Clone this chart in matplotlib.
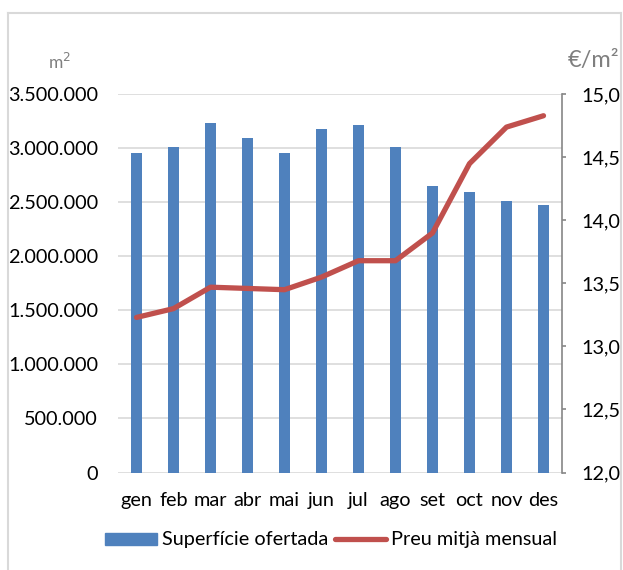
import matplotlib
matplotlib.use("Agg")
import matplotlib.pyplot as plt
from matplotlib.lines import Line2D
from matplotlib.patches import Rectangle
from matplotlib.ticker import FuncFormatter, FixedLocator

plt.rcParams['font.family'] = ['Lato', 'DejaVu Sans']

months = ["gen", "feb", "mar", "abr", "mai", "jun", "jul", "ago", "set", "oct", "nov", "des"]
surface = [2957000, 3012000, 3234000, 3096000, 2954000, 3182000,
           3216000, 3012000, 2652000, 2596000, 2513000, 2479000]
price = [13.23, 13.30, 13.47, 13.46, 13.45, 13.55,
         13.68, 13.68, 13.90, 14.45, 14.74, 14.83]

bar_label = "Superfície ofertada"
line_label = "Preu mitjà mensual"

BLUE = "#4f81bd"
RED = "#c0504d"
GRID = "#d9d9d9"
TXT = "#000000"
UNIT = "#7f7f7f"
FS = 14.3

W, H = 623, 570
fig = plt.figure(figsize=(W / 100, H / 100), dpi=100)

x0, x1, y_top, y_bot = 118, 562, 94.3, 472.5
ax = fig.add_axes([x0 / W, 1 - y_bot / H, (x1 - x0) / W, (y_bot - y_top) / H])
ax2 = ax.twinx()

xs = list(range(len(months)))
ax.bar(xs, surface, width=0.3, color=BLUE, zorder=2)
ax.set_xlim(-0.5, len(months) - 0.5)
ax.set_ylim(0, 3500000)
ax.yaxis.set_major_locator(FixedLocator([i * 500000 for i in range(8)]))
ax.yaxis.set_major_formatter(FuncFormatter(lambda v, p: f"{int(v):,}".replace(",", ".")))
ax.grid(axis='y', color=GRID, lw=1.2, zorder=0)
ax.set_axisbelow(True)
for s in ax.spines.values():
    s.set_visible(False)
ax.tick_params(axis='y', length=0, pad=14.4, labelsize=FS, labelcolor=TXT)
ax.set_xticks(xs)
ax.set_xticklabels(months)
ax.tick_params(axis='x', length=0, pad=14, labelsize=FS, labelcolor=TXT)

ax2.plot(xs, price, color=RED, lw=3.8, solid_capstyle='round', solid_joinstyle='round', zorder=3)
ax2.set_ylim(12.0, 15.0)
ax2.yaxis.set_major_locator(FixedLocator([12.0, 12.5, 13.0, 13.5, 14.0, 14.5, 15.0]))
ax2.yaxis.set_major_formatter(FuncFormatter(lambda v, p: f"{v:.1f}".replace(".", ",")))
for k in ("top", "left", "bottom"):
    ax2.spines[k].set_visible(False)
ax2.spines["right"].set_color("#868686")
ax2.spines["right"].set_linewidth(1.2)
ax2.tick_params(axis='y', direction='out', length=3, width=1.2, color="#868686",
                pad=11, labelsize=FS, labelcolor=TXT)

# unit labels
fig.text(59 / W, 1 - 62 / H, "m$^2$", ha='center', va='center', fontsize=12.5, color=UNIT)
eu = fig.text(568 / W, 1 - 60 / H, "€/m²", ha='left', va='center', fontsize=17, color=UNIT)
clip = Rectangle((0, 0), 621 / W, 1, transform=fig.transFigure, visible=False)
fig.add_artist(clip)
eu.set_clip_path(clip)

# outer frame
for xd, yd in (([8, 8], [570, 13]), ([8, 621], [13, 13]), ([621, 621], [13, 570])):
    fig.add_artist(Line2D([v / W for v in xd], [1 - v / H for v in yd],
                          transform=fig.transFigure, color=GRID, lw=1.5))

# legend
ly = 1 - 539 / H
fig.add_artist(Rectangle((105 / W, ly - 6 / H), 52 / W, 12 / H, transform=fig.transFigure,
                         color=BLUE))
fig.text(162 / W, ly, bar_label, ha='left', va='center', fontsize=FS, color=TXT)
fig.add_artist(Line2D([335 / W, 386 / W], [ly, ly], transform=fig.transFigure, color=RED,
                      lw=3.8, solid_capstyle='round'))
fig.text(391 / W, ly, line_label, ha='left', va='center', fontsize=FS, color=TXT)

fig.savefig("out.png", dpi=100)
